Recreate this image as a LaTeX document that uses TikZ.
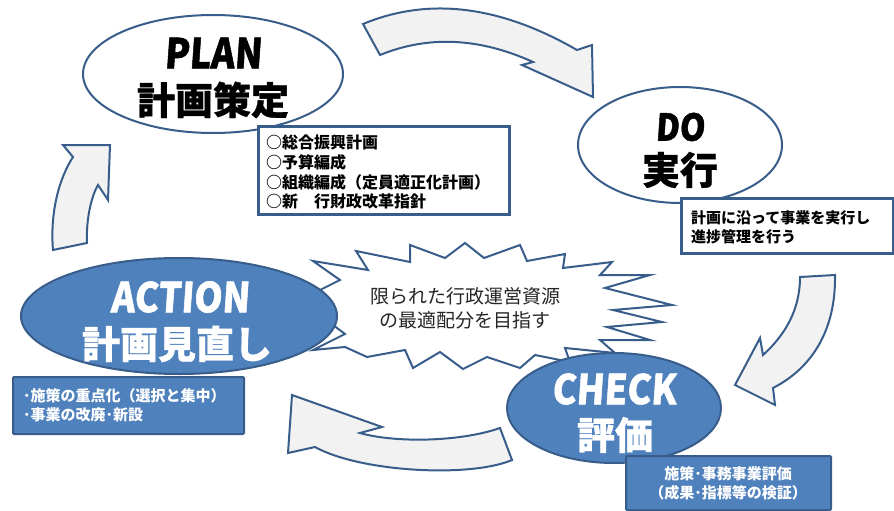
\documentclass[tikz,border=0pt]{standalone}
\usepackage{fontspec}
\usetikzlibrary{shapes.geometric}
\newfontfamily\jp{Noto Sans CJK JP}
\newfontfamily\jpslant{Noto Sans CJK JP}[FakeSlant=0.07,FakeStretch=0.88,FakeBold=1.2]
\newfontfamily\jpheavy{Noto Sans CJK JP}[FakeBold=0.8]
\definecolor{dblue}{HTML}{385D8A}
\definecolor{mblue}{HTML}{4F81BD}
\definecolor{agray}{HTML}{F2F2F2}
\definecolor{tgray}{HTML}{262626}
\begin{document}
\begin{tikzpicture}[x=1pt,y=-1pt,
  arrowshape/.style={fill=agray,draw=dblue,line width=2pt,line join=miter},
  burst/.style={fill=white,draw=dblue,line width=2pt,line join=miter},
  whiteell/.style={ellipse,fill=white,draw=dblue,line width=2pt,inner sep=0pt},
  blueell/.style={ellipse,fill=mblue,draw=dblue,line width=2pt,inner sep=0pt},
  whitebox/.style={rectangle,fill=white,draw=dblue,line width=2.5pt,inner sep=0pt,anchor=north west},
  bluebox/.style={rectangle,fill=mblue,draw=dblue,line width=2pt,rounded corners=1pt,inner sep=0pt,anchor=north west},
  latintitle/.style={inner sep=0pt,font=\jpslant\bfseries\fontsize{41}{41}\selectfont},
  cjktitle/.style={inner sep=0pt,font=\jpheavy\bfseries\fontsize{38}{38}\selectfont},
  boxtext/.style={inner sep=0pt,anchor=west,font=\jp\bfseries\fontsize{16}{16}\selectfont},
  smalltext/.style={inner sep=0pt,font=\jp\bfseries\fontsize{15}{15}\selectfont},
  bursttext/.style={inner sep=0pt,text=tgray,font=\jp\fontsize{19}{19}\selectfont}
]
\useasboundingbox (0,0) rectangle (894,511);
% curved block arrows
\draw[arrowshape] (363,24) .. controls (428,-3) and (499,5) .. (577,50) -- (592,45) -- (593,97) -- (522,65) -- (533,62) .. controls (480,38) and (429,35) .. (380,55) -- cycle;
\draw[arrowshape] (835,275) .. controls (836,330) and (812,368) .. (773,388) -- (775,405) -- (735,385) -- (760,338) -- (763,355) .. controls (785,335) and (800,310) .. (800,277) -- cycle;
\draw[arrowshape] (512,460) .. controls (470,478) and (360,472) .. (315,447) -- (288,453) -- (292,395) -- (382,427) -- (360,433) .. controls (395,443) and (460,442) .. (500,428) -- cycle;
\draw[arrowshape] (53,250) .. controls (50,215) and (58,180) .. (73,157) -- (63,145) -- (110,145) -- (108,200) -- (98,185) .. controls (91,197) and (86,220) .. (87,243) -- cycle;
% starburst
\draw[burst] (313,261) -- (368,270) -- (356,251) -- (410,262) -- (410,245) -- (445,258) -- (465,243) -- (484,258) -- (520,245) -- (527,261) -- (565,254) -- (563,268) -- (612,262) -- (600,275) -- (650,275) -- (605,288) -- (672,305) -- (613,310) -- (662,322) -- (607,327) -- (650,340) -- (600,340) -- (615,353) -- (565,348) -- (570,362) -- (535,355) -- (520,368) -- (487,357) -- (463,369) -- (440,352) -- (413,368) -- (405,350) -- (367,357) -- (345,347) -- (313,350) -- (345,334) -- (300,300) -- (340,280) -- cycle;
\node[bursttext] (b1) at (465,296) {限られた行政運営資源};
\node[bursttext] (b2) at (465,320) {の最適配分を目指す};
% ellipses
\node[whiteell,minimum width=260pt,minimum height=118pt] (plan) at (213,74) {};
\node[whiteell,minimum width=204pt,minimum height=116pt] (do) at (680,145) {};
\node[blueell,minimum width=316pt,minimum height=116pt] (act) at (179,316) {};
\node[blueell,minimum width=214pt,minimum height=110pt] (chk) at (614,408) {};
% boxes
\node[whitebox,minimum width=251pt,minimum height=88pt] (planbox) at (257,125) {};
\node[whitebox,minimum width=212pt,minimum height=55pt] (dobox) at (680,197) {};
\node[bluebox,minimum width=231pt,minimum height=57pt] (actbox) at (12,376) {};
\node[bluebox,minimum width=205pt,minimum height=54pt] (chkbox) at (625,455) {};
% titles
\node[latintitle] (t1) at (213,53) {PLAN};
\node[cjktitle] (t2) at (213,100) {計画策定};
\node[latintitle,font=\jpslant\bfseries\fontsize{37}{37}\selectfont] (t3) at (680,127) {DO};
\node[cjktitle] (t4) at (680,170) {実行};
\node[latintitle,text=white] (t5) at (180,297) {ACTION};
\node[cjktitle,text=white] (t6) at (177,344) {計画見直し};
\node[latintitle,text=white] (t7) at (614,389) {CHECK};
\node[cjktitle,text=white] (t8) at (615,435) {評価};
% box texts
\node[boxtext] (p1) at (266,142) {○総合振興計画};
\node[boxtext] (p2) at (266,162) {○予算編成};
\node[boxtext] (p3) at (266,182) {○組織編成（定員適正化計画）};
\node[boxtext] (p4) at (266,201) {○新　行財政改革指針};
\node[smalltext,anchor=west] (d1) at (691,218) {計画に沿って事業を実行し};
\node[smalltext,anchor=west] (d2) at (691,237) {進捗管理を行う};
\node[smalltext,anchor=west,text=white] (a1) at (23,396) {･施策の重点化（選択と集中）};
\node[smalltext,anchor=west,text=white] (a2) at (23,415) {･事業の改廃･新設};
\node[smalltext,text=white] (c1) at (728,474) {施策･事務事業評価};
\node[smalltext,text=white] (c2) at (728,493) {（成果･指標等の検証）};
\end{tikzpicture}
\end{document}
